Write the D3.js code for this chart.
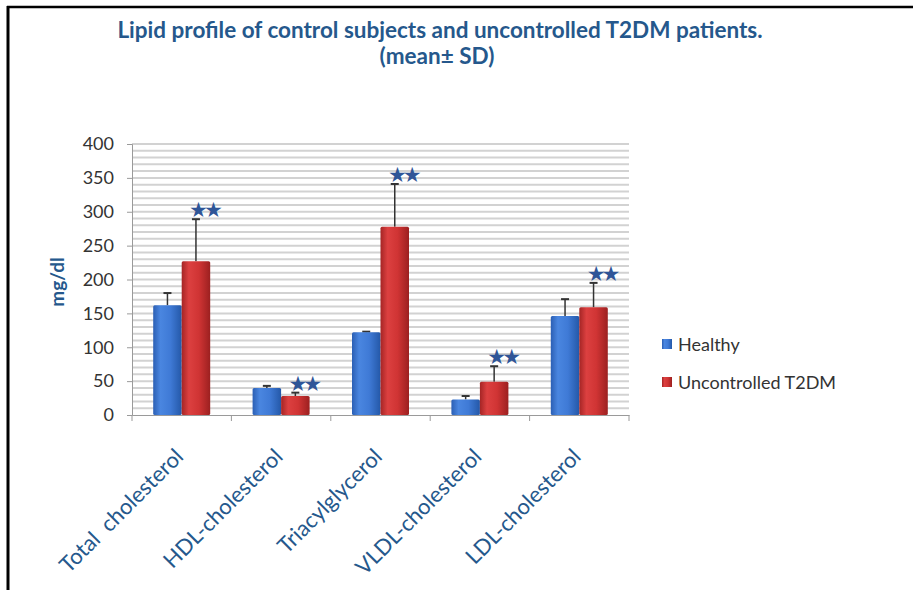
<!DOCTYPE html>
<html>
<head>
  <meta charset="utf-8">
  <script src="https://d3js.org/d3.v7.min.js"></script>
  <style type="text/css">
    body { margin: 0; background: #fff; }
    text { font-family: Lato, "Open Sans", sans-serif; }
  </style>
</head>
<body>
<script type="text/javascript">
  "use strict";

  // data
  var categories = ["Total  cholesterol", "HDL-cholesterol", "Triacylglycerol", "VLDL-cholesterol", "LDL-cholesterol"];
  var seriesNames = ["Healthy", "Uncontrolled T2DM"];
  var healthyMean = [162, 40, 122, 23, 146];
  var healthySD = [18, 3, 1, 5, 25];
  var t2dmMean = [227, 28, 278, 49, 159];
  var t2dmSD = [62, 5, 63, 23, 36];
  var yTicks = [0, 50, 100, 150, 200, 250, 300, 350, 400];

  var width = 913, height = 590;
  var plotLeft = 132, plotRight = 629, plotTop = 144, plotBottom = 415;
  var navy = "#25588c";

  var svg = d3.select("body").append("svg")
      .attr("width", width)
      .attr("height", height);

  // frame lines (top and left only)
  svg.append("line").attr("x1", 7).attr("x2", width).attr("y1", 7).attr("y2", 7)
      .attr("stroke", "#000").attr("stroke-width", 2.5);
  svg.append("line").attr("x1", 8).attr("x2", 8).attr("y1", 6).attr("y2", height)
      .attr("stroke", "#000").attr("stroke-width", 3);

  // title
  svg.append("text").attr("x", 440).attr("y", 38)
      .attr("text-anchor", "middle")
      .style("font-size", "22.5px").style("font-weight", "bold").style("fill", navy)
      .text("Lipid profile of control subjects and uncontrolled T2DM patients.");
  svg.append("text").attr("x", 437).attr("y", 64)
      .attr("text-anchor", "middle")
      .style("font-size", "22.5px").style("font-weight", "bold").style("fill", navy)
      .text("(mean\u00b1 SD)");

  var defs = svg.append("defs");
  function grad(id, stops) {
    var g = defs.append("linearGradient").attr("id", id)
        .attr("x1", "0%").attr("x2", "100%").attr("y1", "0%").attr("y2", "0%");
    stops.forEach(function (s) {
      g.append("stop").attr("offset", s[0]).attr("stop-color", s[1]);
    });
  }
  grad("gBlue", [["0%", "#2b5fb4"], ["25%", "#4a86e0"], ["60%", "#3f7ad6"], ["100%", "#2458a8"]]);
  grad("gRed", [["0%", "#a52525"], ["25%", "#dc4040"], ["60%", "#d03434"], ["100%", "#9c2020"]]);

  var x = d3.scaleBand().domain(categories).range([plotLeft, plotRight]).paddingInner(0).paddingOuter(0);
  var y = d3.scaleLinear().domain([0, 400]).range([plotBottom, plotTop]);

  // minor gridlines every 10
  var g = svg.append("g");
  g.selectAll("line.grid").data(d3.range(10, 401, 10)).enter().append("line")
      .attr("x1", plotLeft).attr("x2", plotRight)
      .attr("y1", function (d) { return y(d); }).attr("y2", function (d) { return y(d); })
      .attr("stroke", "#d2d2d2").attr("stroke-width", 2);

  // y axis
  var yAxis = svg.append("g").attr("transform", "translate(" + plotLeft + ",0)")
      .call(d3.axisLeft(y).tickValues(yTicks).tickSize(5).tickPadding(13));
  yAxis.select(".domain").attr("stroke", "#9a9a9a");
  yAxis.selectAll(".tick line").attr("stroke", "#9a9a9a");
  yAxis.selectAll(".tick text").style("font-size", "18px").style("fill", "#333")
      .style("font-family", "Lato, sans-serif");

  // x axis
  var xAxis = svg.append("g").attr("transform", "translate(0," + plotBottom + ")")
      .call(d3.axisBottom(x).tickSize(0).tickFormat(""));
  xAxis.select(".domain").attr("stroke", "#9a9a9a");
  var edges = categories.map(function (c) { return x(c); }).concat([plotRight]);
  xAxis.selectAll("line.edge").data(edges).enter().append("line")
      .attr("x1", function (d) { return d; }).attr("x2", function (d) { return d; })
      .attr("y1", 0).attr("y2", 6).attr("stroke", "#9a9a9a");

  // category labels rotated
  svg.selectAll("text.cat").data(categories).enter().append("text")
      .attr("class", "cat")
      .attr("transform", function (d) {
        return "translate(" + (x(d) + x.bandwidth() / 2 + 3) + "," + (plotBottom + 43) + ") rotate(-45)";
      })
      .attr("text-anchor", "end")
      .style("white-space", "pre")
      .style("font-size", "22px").style("fill", navy)
      .text(function (d) { return d; });

  // y title
  svg.append("text")
      .attr("transform", "translate(64," + 282 + ") rotate(-90)")
      .attr("text-anchor", "middle")
      .style("font-size", "19px").style("font-weight", "bold").style("fill", navy)
      .text("mg/dl");

  var barW = 28.5;
  var rows = categories.map(function (c, i) {
    return { cat: c, h: healthyMean[i], hs: healthySD[i], t: t2dmMean[i], ts: t2dmSD[i] };
  });

  function drawSeries(key, sdKey, offset, fill) {
    var gs = svg.append("g");
    gs.selectAll("line.err").data(rows).enter().append("line")
        .attr("x1", function (d) { return x(d.cat) + x.bandwidth() / 2 + offset + barW / 2; })
        .attr("x2", function (d) { return x(d.cat) + x.bandwidth() / 2 + offset + barW / 2; })
        .attr("y1", function (d) { return y(d[key]); })
        .attr("y2", function (d) { return y(d[key] + d[sdKey]); })
        .attr("stroke", "#333").attr("stroke-width", 1.5);
    gs.selectAll("line.cap").data(rows).enter().append("line")
        .attr("x1", function (d) { return x(d.cat) + x.bandwidth() / 2 + offset + barW / 2 - 4; })
        .attr("x2", function (d) { return x(d.cat) + x.bandwidth() / 2 + offset + barW / 2 + 4; })
        .attr("y1", function (d) { return y(d[key] + d[sdKey]); })
        .attr("y2", function (d) { return y(d[key] + d[sdKey]); })
        .attr("stroke", "#333").attr("stroke-width", 2);
    gs.selectAll("rect").data(rows).enter().append("rect")
        .attr("x", function (d) { return x(d.cat) + x.bandwidth() / 2 + offset; })
        .attr("y", function (d) { return y(d[key]); })
        .attr("width", barW)
        .attr("height", function (d) { return plotBottom - y(d[key]); })
        .attr("rx", 1.5)
        .attr("fill", fill);
  }
  drawSeries("h", "hs", -barW, "url(#gBlue)");
  drawSeries("t", "ts", 0, "url(#gRed)");

  // significance stars
  svg.selectAll("text.star").data(rows).enter().append("text")
      .attr("x", function (d) { return x(d.cat) + x.bandwidth() / 2 + barW / 2 + 8; })
      .attr("y", function (d) { return y(d.t + d.ts) - 2; })
      .attr("text-anchor", "middle")
      .style("font-size", "21px").style("fill", "#2f5597")
      .style("font-family", "DejaVu Sans, sans-serif")
      .style("letter-spacing", "-4px")
      .text("\u2605\u2605");

  // legend
  var legend = svg.append("g").attr("transform", "translate(662,339)");
  var colors = ["url(#gBlue)", "url(#gRed)"];
  seriesNames.forEach(function (n, i) {
    legend.append("rect").attr("x", 0).attr("y", i * 38).attr("width", 10).attr("height", 10)
        .attr("fill", colors[i]);
    legend.append("text").attr("x", 16).attr("y", i * 38 + 12)
        .style("font-size", "18px").style("fill", "#333")
        .text(n);
  });
</script>
</body>
</html>
